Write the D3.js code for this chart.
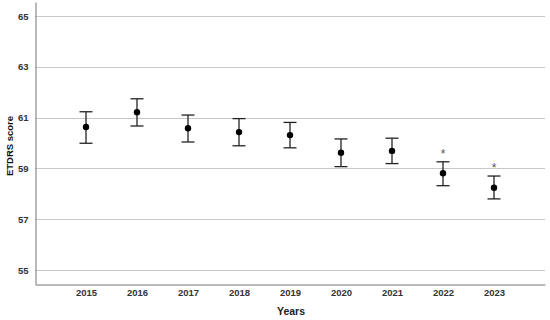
<!DOCTYPE html>
<html><head><meta charset="utf-8">
<script src="https://cdn.jsdelivr.net/npm/d3@7"></script>
<style>body{margin:0;background:#fff;} svg{display:block;font-family:Arial,"Liberation Sans",sans-serif;}</style>
</head><body>
<svg id="c" width="550" height="320"></svg>
<script>
const years = ["2015","2016","2017","2018","2019","2020","2021","2022","2023"];
const means = [60.63, 61.21, 60.58, 60.43, 60.31, 59.62, 59.69, 58.81, 58.24];
const upper = [61.23, 61.74, 61.10, 60.96, 60.81, 60.16, 60.19, 59.26, 58.70];
const lower = [59.99, 60.67, 60.04, 59.89, 59.81, 59.07, 59.19, 58.32, 57.80];
const significant = [false, false, false, false, false, false, false, true, true];
const yTicks = [55, 57, 59, 61, 63, 65];

(function () {
const svg = d3.select("#c");
const pl = 35, pr = 545, pt = 2, pb = 284;
const x = d3.scalePoint().domain(years).range([pl, pr]).padding(1);
const y = d3.scaleLinear().domain([54.45, 65.55]).range([pb, pt]);

// gridlines
svg.append("g").selectAll("line").data(yTicks).join("line")
  .attr("x1", pl).attr("x2", pr)
  .attr("y1", d => Math.round(y(d)) + 0.5).attr("y2", d => Math.round(y(d)) + 0.5)
  .attr("stroke", "#c8c8c8").attr("stroke-width", 1);

// y axis
const ya = svg.append("g").attr("transform", `translate(${pl + 0.5},0)`)
  .call(d3.axisLeft(y).tickValues(yTicks).tickSize(0).tickPadding(7));
ya.select(".domain").attr("stroke", "#777");
ya.selectAll("text").attr("font-size", 9.5).attr("font-weight", "bold").attr("fill", "#333");

// x axis
const xa = svg.append("g").attr("transform", `translate(0,${pb + 0.5})`)
  .call(d3.axisBottom(x).tickSize(0).tickPadding(5));
xa.select(".domain").attr("stroke", "#777");
xa.selectAll("text").attr("font-size", 9.5).attr("font-weight", "bold").attr("fill", "#333");

// axis titles
svg.append("text").attr("x", 291).attr("y", 315)
  .attr("text-anchor", "middle").attr("font-size", 10.5).attr("font-weight", "bold").attr("fill", "#222")
  .text("Years");
svg.append("text").attr("transform", `translate(12.5,146) rotate(-90)`)
  .attr("text-anchor", "middle").attr("font-size", 9.5).attr("font-weight", "bold").attr("fill", "#111")
  .text("ETDRS score");

// error bars
const g = svg.append("g");
const cap = 6.5;
years.forEach((yr, i) => {
  const cx = x(yr);
  g.append("line").attr("x1", cx).attr("x2", cx).attr("y1", y(upper[i])).attr("y2", y(lower[i]))
    .attr("stroke", "#222").attr("stroke-width", 1.3);
  g.append("line").attr("x1", cx - cap).attr("x2", cx + cap).attr("y1", y(upper[i])).attr("y2", y(upper[i]))
    .attr("stroke", "#222").attr("stroke-width", 1.3);
  g.append("line").attr("x1", cx - cap).attr("x2", cx + cap).attr("y1", y(lower[i])).attr("y2", y(lower[i]))
    .attr("stroke", "#222").attr("stroke-width", 1.3);
  g.append("circle").attr("cx", cx).attr("cy", y(means[i])).attr("r", 3.2).attr("fill", "#000");
  if (significant[i]) {
    g.append("text").attr("x", cx).attr("y", y(upper[i]) - 4)
      .attr("text-anchor", "middle").attr("font-size", 12).attr("fill", "#555").text("*");
  }
});
})();
</script>
</body></html>
